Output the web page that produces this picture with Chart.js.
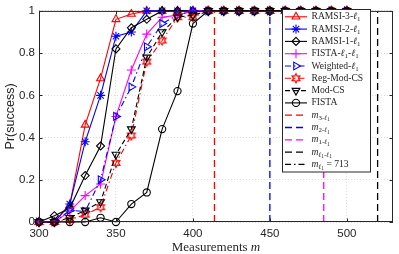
<!DOCTYPE html>
<html>
<head>
<meta charset="utf-8">
<script src="https://cdn.jsdelivr.net/npm/chart.js@4/dist/chart.umd.min.js"></script>
<style>
html, body { margin: 0; padding: 0; background: #fff; }
canvas { display: block; }
</style>
</head>
<body>
<canvas id="chart" width="399" height="254"></canvas>
<script>
// values
const measurements = [300, 310, 320, 330, 340, 350, 360, 370, 380, 390, 400, 410, 420, 430, 440, 450, 460, 470, 480, 490, 500];
const ramsi3 = [0, 0, 0.08, 0.46, 0.68, 0.96, 0.985, 1, 1, 1, 1, 1, 1, 1, 1, 1, 1, 1, 1, 1, 1];
const ramsi2 = [0, 0, 0.085, 0.38, 0.6, 0.88, 0.9, 1, 1, 1, 1, 1, 1, 1, 1, 1, 1, 1, 1, 1, 1];
const ramsi1 = [0, 0.03, 0.065, 0.22, 0.36, 0.82, 0.92, 0.96, 1, 1, 1, 1, 1, 1, 1, 1, 1, 1, 1, 1, 1];
const fistaL1L1 = [0, 0, 0.05, 0.125, 0.18, 0.5, 0.72, 0.89, 0.97, 0.98, 1, 1, 1, 1, 1, 1, 1, 1, 1, 1, 1];
const weightedL1 = [0, 0, 0.055, 0.05, 0.2, 0.5, 0.64, 0.83, 0.94, 0.98, 1, 1, 1, 1, 1, 1, 1, 1, 1, 1, 1];
const regModCS = [0, 0, 0.01, 0.035, 0.07, 0.28, 0.41, 0.76, 0.86, 0.97, 0.97, 1, 1, 1, 1, 1, 1, 1, 1, 1, 1];
const modCS = [0, 0, 0.02, 0.055, 0.095, 0.32, 0.44, 0.78, 0.9, 0.97, 0.98, 1, 1, 1, 1, 1, 1, 1, 1, 1, 1];
const fista = [0, 0, 0, 0, 0.02, 0, 0.085, 0.14, 0.44, 0.62, 0.94, 1, 1, 1, 1, 1, 1, 1, 1, 1, 1];

// bound lines (m values)
const thresholdM = [414, 450, 485, 520, 713];

const xTicks = [300, 350, 400, 450, 500];
const yTicks = [0, 0.2, 0.4, 0.6, 0.8, 1];
const yTickLabels = ['0', '0.2', '0.4', '0.6', '0.8', '1'];

// legend texts: [text, style]  style: '' normal, i italic, s sub, si sub italic, ss subsub
const legendLabels = [
    [['RAMSI-3-', ''], ['ℓ', 'i'], ['1', 's']],
    [['RAMSI-2-', ''], ['ℓ', 'i'], ['1', 's']],
    [['RAMSI-1-', ''], ['ℓ', 'i'], ['1', 's']],
    [['FISTA-', ''], ['ℓ', 'i'], ['1', 's'], ['-', ''], ['ℓ', 'i'], ['1', 's']],
    [['Weighted-', ''], ['ℓ', 'i'], ['1', 's']],
    [['Reg-Mod-CS', '']],
    [['Mod-CS', '']],
    [['FISTA', '']],
    [['m', 'i'], ['3-', 's'], ['ℓ', 'si'], ['1', 'ss']],
    [['m', 'i'], ['2-', 's'], ['ℓ', 'si'], ['1', 'ss']],
    [['m', 'i'], ['1-', 's'], ['ℓ', 'si'], ['1', 'ss']],
    [['m', 'i'], ['ℓ', 'si'], ['1', 'ss'], ['-', 's'], ['ℓ', 'si'], ['1', 'ss']],
    [['m', 'i'], ['ℓ', 'si'], ['1', 'ss'], [' = 713', '']]
];
const xTitle = [['Measurements ', ''], ['m', 'i']];

const SERIF = '"Liberation Serif", "Times New Roman", serif';
const SANS = '"Liberation Sans", Arial, sans-serif';
const AXIS_COLOR = '#262626';

// hexagram marker (matlab 'h')
function hexagram(color, r) {
    const c = document.createElement('canvas');
    const s = Math.ceil(r * 2 + 3);
    c.width = s; c.height = s;
    const g = c.getContext('2d');
    g.strokeStyle = color;
    g.lineWidth = 1.2;
    g.beginPath();
    for (let k = 0; k < 12; k++) {
        const a = -Math.PI / 2 + k * Math.PI / 6;
        const rr = k % 2 === 0 ? r : r * 0.55;
        const px = s / 2 + rr * Math.cos(a), py = s / 2 + rr * Math.sin(a);
        if (k === 0) g.moveTo(px, py); else g.lineTo(px, py);
    }
    g.closePath();
    g.stroke();
    return c;
}

function series(values, color, style, rotation, dash, radius) {
    return {
        data: measurements.map((m, i) => ({ x: m, y: values[i] })),
        borderColor: color,
        pointBorderColor: color,
        pointBackgroundColor: 'rgba(0,0,0,0)',
        borderWidth: 1.1,
        pointBorderWidth: 1.1,
        borderDash: dash,
        pointStyle: style,
        rotation: rotation,
        pointRadius: radius,
        clip: false,
        tension: 0
    };
}

function vline(m, color, dash) {
    return {
        data: [{ x: m, y: 0 }, { x: m, y: 1 }],
        borderColor: color,
        borderWidth: 1.3,
        borderDash: dash,
        pointRadius: 0,
        pointStyle: false
    };
}

const datasets = [
    series(ramsi3, '#ff0000', 'triangle', 0, [], 4.5),
    series(ramsi2, '#0000ff', 'star', 0, [], 4.5),
    series(ramsi1, '#000000', 'rectRot', 0, [], 4),
    series(fistaL1L1, '#ff00ff', 'cross', 0, [], 4.5),
    series(weightedL1, '#0000ff', 'triangle', 90, [6, 3, 1.5, 3], 4.5),
    series(regModCS, '#ff0000', hexagram('#ff0000', 4.5), 0, [6, 3, 1.5, 3], 4.5),
    series(modCS, '#000000', 'triangle', 180, [5, 3], 4.5),
    series(fista, '#000000', 'circle', 0, [], 3.6),
    vline(thresholdM[0], '#ff0000', [7, 4]),
    vline(thresholdM[1], '#0000ff', [7, 4]),
    vline(thresholdM[2], '#ff00ff', [7, 4]),
    vline(thresholdM[3], '#000000', [7, 4]),
    vline(thresholdM[4], '#000000', [6, 3, 1.5, 3])
];
// matlab draws later lines on top
datasets.forEach((d, i) => { d.order = datasets.length - i; });

function drawRich(ctx, segs, x, y, size) {
    for (const [t, st] of segs) {
        let fs = size, dy = 0, italic = st.indexOf('i') >= 0;
        if (st === 's' || st === 'si') { fs = size * 0.72; dy = size * 0.3; }
        if (st === 'ss') { fs = size * 0.56; dy = size * 0.48; }
        ctx.font = (italic ? 'italic ' : '') + fs + 'px ' + SERIF;
        ctx.fillText(t, x, y + dy);
        x += ctx.measureText(t).width;
    }
    return x;
}

function richWidth(ctx, segs, size) {
    let w = 0;
    for (const [t, st] of segs) {
        let fs = size, italic = st.indexOf('i') >= 0;
        if (st === 's' || st === 'si') fs = size * 0.72;
        if (st === 'ss') fs = size * 0.56;
        ctx.font = (italic ? 'italic ' : '') + fs + 'px ' + SERIF;
        w += ctx.measureText(t).width;
    }
    return w;
}

const boxPlugin = {
    id: 'boxPlugin',
    afterDraw(chart) {
        const ctx = chart.ctx;
        const a = chart.chartArea;
        const xs = chart.scales.x, ys = chart.scales.y;
        ctx.save();
        // box and inward ticks
        ctx.strokeStyle = AXIS_COLOR;
        ctx.lineWidth = 1;
        ctx.setLineDash([]);
        ctx.strokeRect(a.left + 0.5, a.top + 0.5, a.right - a.left - 1, a.bottom - a.top - 1);
        ctx.beginPath();
        xTicks.forEach(v => {
            const px = Math.round(xs.getPixelForValue(v)) + 0.5;
            ctx.moveTo(px, a.bottom); ctx.lineTo(px, a.bottom - 3.5);
            ctx.moveTo(px, a.top); ctx.lineTo(px, a.top + 3.5);
        });
        yTicks.forEach(v => {
            const py = Math.round(ys.getPixelForValue(v)) + 0.5;
            ctx.moveTo(a.left, py); ctx.lineTo(a.left + 3.5, py);
            ctx.moveTo(a.right, py); ctx.lineTo(a.right - 3.5, py);
        });
        ctx.stroke();

        // x title
        ctx.fillStyle = AXIS_COLOR;
        ctx.textBaseline = 'middle';
        const tw = richWidth(ctx, xTitle, 13);
        drawRich(ctx, xTitle, (a.left + a.right) / 2 - tw / 2, 247.5, 13);

        // legend
        const lx = 282.5, ly = 9.5, lw = 88, lh = 162.5;
        ctx.fillStyle = '#ffffff';
        ctx.fillRect(lx, ly, lw, lh);
        ctx.strokeStyle = AXIS_COLOR;
        ctx.lineWidth = 1;
        ctx.strokeRect(lx, ly, lw, lh);
        const helpers = Chart.helpers;
        legendLabels.forEach((segs, i) => {
            const d = datasets[i];
            const y = 16.8 + i * 12.3;
            ctx.save();
            ctx.strokeStyle = d.borderColor;
            ctx.lineWidth = d.borderWidth;
            ctx.setLineDash(d.borderDash || []);
            ctx.beginPath();
            ctx.moveTo(285, y); ctx.lineTo(307, y);
            ctx.stroke();
            ctx.setLineDash([]);
            if (d.pointRadius > 0 && helpers && helpers.drawPoint) {
                ctx.fillStyle = d.pointBackgroundColor;
                ctx.strokeStyle = d.pointBorderColor;
                ctx.lineWidth = d.pointBorderWidth;
                helpers.drawPoint(ctx, {
                    pointStyle: d.pointStyle,
                    rotation: d.rotation,
                    radius: d.pointRadius,
                    borderWidth: d.pointBorderWidth
                }, 296, y);
            }
            ctx.restore();
            ctx.fillStyle = AXIS_COLOR;
            ctx.textBaseline = 'middle';
            drawRich(ctx, segs, 311.5, y, 9.6);
        });
        ctx.restore();
    }
};

new Chart(document.getElementById('chart').getContext('2d'), {
    type: 'line',
    data: { datasets: datasets },
    options: {
        responsive: false,
        animation: false,
        layout: { padding: { top: 7, right: 6, left: 0, bottom: 0 } },
        plugins: {
            legend: { display: false },
            tooltip: { enabled: false }
        },
        scales: {
            x: {
                type: 'linear',
                min: 300,
                max: 530,
                afterBuildTicks: s => { s.ticks = xTicks.map(v => ({ value: v })); },
                afterFit: s => { s.height = 32; },
                grid: { color: '#dcdcdc', lineWidth: 1, drawTicks: false },
                border: { display: false, dash: [1, 2] },
                ticks: {
                    padding: 5,
                    color: AXIS_COLOR,
                    font: { family: SANS, size: 11.5 },
                    maxRotation: 0
                }
            },
            y: {
                type: 'linear',
                min: 0,
                max: 1,
                afterBuildTicks: s => { s.ticks = yTicks.map(v => ({ value: v })); },
                afterFit: s => { s.width = 39; },
                grid: { color: '#dcdcdc', lineWidth: 1, drawTicks: false },
                border: { display: false, dash: [1, 2] },
                ticks: {
                    padding: 4,
                    color: AXIS_COLOR,
                    font: { family: SANS, size: 11.5 },
                    callback: (v, i) => yTickLabels[i]
                },
                title: {
                    display: true,
                    text: 'Pr(success)',
                    color: AXIS_COLOR,
                    font: { family: SANS, size: 12.5 },
                    padding: { top: 3, bottom: 0 }
                }
            }
        }
    },
    plugins: [boxPlugin]
});
</script>
</body>
</html>
